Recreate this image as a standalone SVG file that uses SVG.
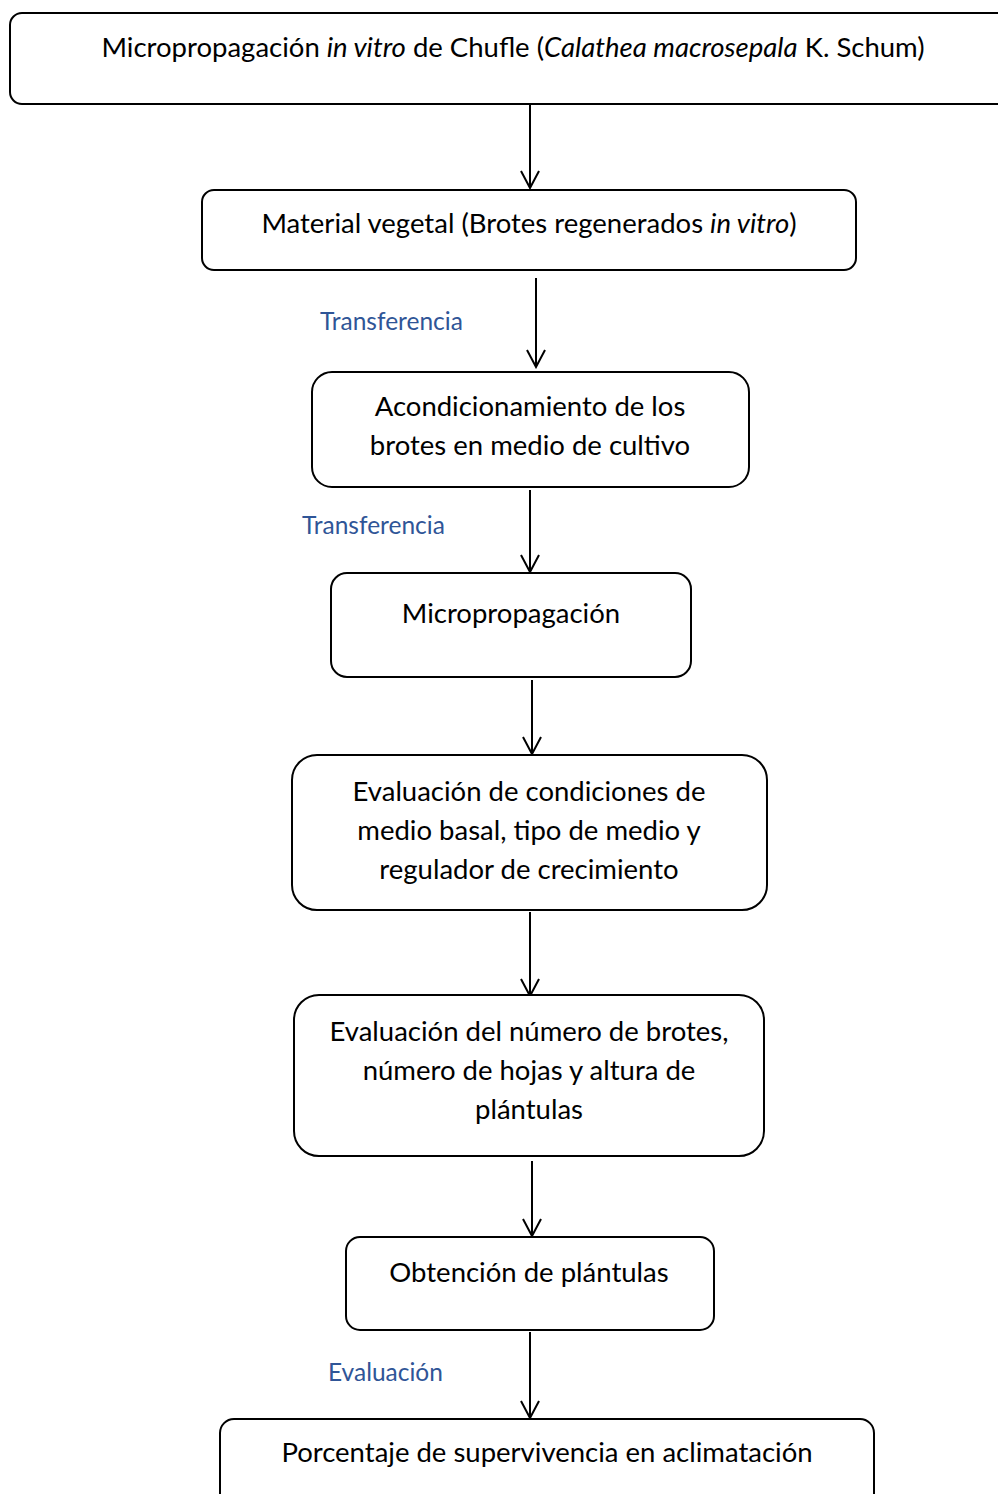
<svg xmlns="http://www.w3.org/2000/svg" width="998" height="1494" viewBox="0 0 998 1494">
<style>
.box{fill:#fff;stroke:#000;stroke-width:2}
.t{font-family:Lato,"Liberation Sans",sans-serif;font-size:27.5px;fill:#000;text-anchor:middle}
.lbl{font-family:Lato,"Liberation Sans",sans-serif;font-size:24.5px;fill:#2F5597}
.c{stroke:#000;stroke-width:2;fill:none}
</style>
<defs>
<marker id="ah" viewBox="0 0 20 20" refX="18" refY="10" markerWidth="20" markerHeight="20" markerUnits="userSpaceOnUse" orient="auto">
<path d="M1,1 L18,10 L1,19" fill="none" stroke="#000" stroke-width="2"/>
</marker>
</defs>
<rect width="998" height="1494" fill="#fff"/>
<g id="connectors">
<line class="c" x1="530" y1="105" x2="530" y2="188" marker-end="url(#ah)"/>
<line class="c" x1="536" y1="278" x2="536" y2="367" marker-end="url(#ah)"/>
<line class="c" x1="530" y1="490" x2="530" y2="572" marker-end="url(#ah)"/>
<line class="c" x1="532" y1="680" x2="532" y2="754" marker-end="url(#ah)"/>
<line class="c" x1="530" y1="912" x2="530" y2="996" marker-end="url(#ah)"/>
<line class="c" x1="532" y1="1161" x2="532" y2="1236" marker-end="url(#ah)"/>
<line class="c" x1="530" y1="1332" x2="530" y2="1418" marker-end="url(#ah)"/>
<text class="lbl" x="320" y="330">Transferencia</text>
<text class="lbl" x="302" y="534">Transferencia</text>
<text class="lbl" x="328" y="1381">Evaluación</text>
</g>
<g id="n1">
<rect class="box" x="10" y="13" width="1000" height="91" rx="12"/>
<text class="t" x="513" y="57">Micropropagación <tspan font-style="italic">in vitro</tspan> de Chufle (<tspan font-style="italic">Calathea macrosepala</tspan> K. Schum)</text>
</g>
<g id="n2">
<rect class="box" x="202" y="190" width="654" height="80" rx="12"/>
<text class="t" x="529" y="233">Material vegetal (Brotes regenerados <tspan font-style="italic">in vitro</tspan>)</text>
</g>
<g id="n3">
<rect class="box" x="312" y="372" width="437" height="115" rx="20"/>
<text class="t" x="530" y="416">Acondicionamiento de los</text>
<text class="t" x="530" y="455">brotes en medio de cultivo</text>
</g>
<g id="n4">
<rect class="box" x="331" y="573" width="360" height="104" rx="16"/>
<text class="t" x="511" y="623">Micropropagación</text>
</g>
<g id="n5">
<rect class="box" x="292" y="755" width="475" height="155" rx="25"/>
<text class="t" x="529" y="801">Evaluación de condiciones de</text>
<text class="t" x="529" y="840">medio basal, tipo de medio y</text>
<text class="t" x="529" y="879">regulador de crecimiento</text>
</g>
<g id="n6">
<rect class="box" x="294" y="995" width="470" height="161" rx="25"/>
<text class="t" x="529" y="1041">Evaluación del número de brotes,</text>
<text class="t" x="529" y="1080">número de hojas y altura de</text>
<text class="t" x="529" y="1119">plántulas</text>
</g>
<g id="n7">
<rect class="box" x="346" y="1237" width="368" height="93" rx="14"/>
<text class="t" x="529" y="1282">Obtención de plántulas</text>
</g>
<g id="n8">
<rect class="box" x="220" y="1419" width="654" height="100" rx="14"/>
<text class="t" x="547" y="1462">Porcentaje de supervivencia en aclimatación</text>
</g>
</svg>
